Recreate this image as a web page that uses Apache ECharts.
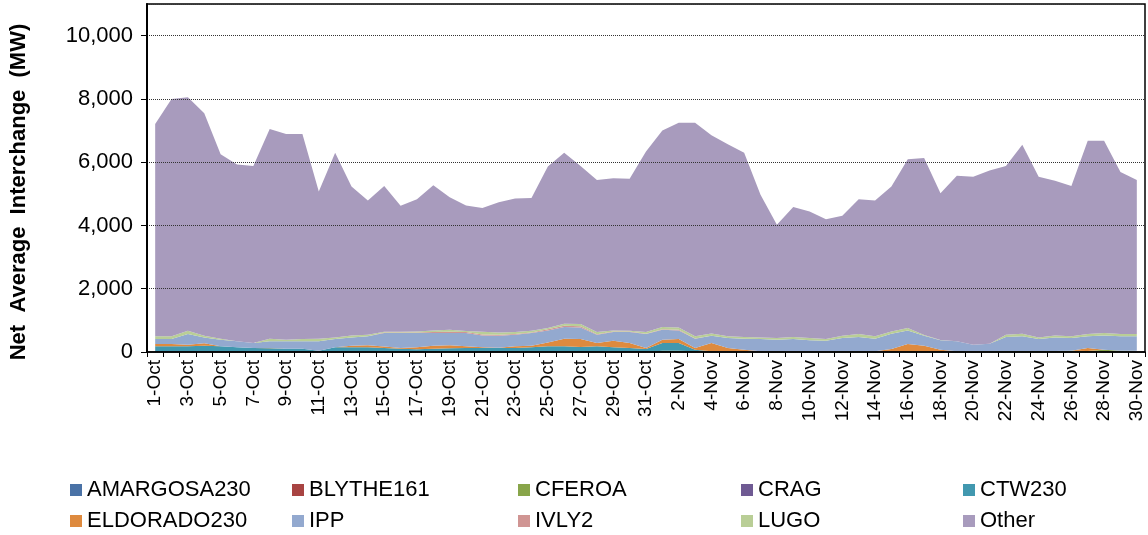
<!DOCTYPE html>
<html>
<head>
<meta charset="utf-8">
<script src="https://cdn.jsdelivr.net/npm/echarts@6/dist/echarts.min.js"></script>
<style>
html,body{margin:0;padding:0;background:#fff;}
#chart{width:1148px;height:535px;}
</style>
</head>
<body>
<div id="chart"></div>
<script>
var categories = ["1-Oct","2-Oct","3-Oct","4-Oct","5-Oct","6-Oct","7-Oct","8-Oct","9-Oct","10-Oct","11-Oct","12-Oct","13-Oct","14-Oct","15-Oct","16-Oct","17-Oct","18-Oct","19-Oct","20-Oct","21-Oct","22-Oct","23-Oct","24-Oct","25-Oct","26-Oct","27-Oct","28-Oct","29-Oct","30-Oct","31-Oct","1-Nov","2-Nov","3-Nov","4-Nov","5-Nov","6-Nov","7-Nov","8-Nov","9-Nov","10-Nov","11-Nov","12-Nov","13-Nov","14-Nov","15-Nov","16-Nov","17-Nov","18-Nov","19-Nov","20-Nov","21-Nov","22-Nov","23-Nov","24-Nov","25-Nov","26-Nov","27-Nov","28-Nov","29-Nov","30-Nov"];

var seriesNames = ["AMARGOSA230","BLYTHE161","CFEROA","CRAG","CTW230","ELDORADO230","IPP","IVLY2","LUGO","Other"];

var amargosa230 = [20,20,20,20,20,20,20,20,20,20,20,20,20,20,0,0,0,0,0,0,0,0,0,0,0,0,0,0,0,0,0,0,0,0,0,0,0,0,0,0,0,0,0,0,0,0,0,0,0,0,0,0,0,0,0,0,0,0,0,0,0];
var blythe161 = [0,0,0,0,0,0,0,0,0,0,0,0,0,0,0,0,0,0,0,0,0,0,0,0,0,0,0,0,0,0,0,0,0,0,0,0,0,0,0,0,0,0,0,0,0,0,0,0,0,0,0,0,0,0,0,0,0,0,0,0,0];
var cferoa = [0,0,0,0,0,0,0,0,0,0,0,0,0,0,0,0,0,0,0,0,0,0,0,0,0,0,0,0,0,0,0,40,40,20,0,0,0,20,20,20,20,20,20,20,20,0,0,0,0,20,20,20,30,30,30,30,40,30,74,40,40];
var crag = [0,0,0,0,0,0,0,0,0,0,0,0,0,0,0,0,0,0,0,0,0,0,0,0,0,0,0,0,0,0,0,0,0,0,0,0,0,0,0,0,0,0,0,0,0,0,0,0,0,0,0,0,0,0,0,0,0,0,0,0,0];
var ctw230 = [158,158,158,179,158,127,106,96,85,85,22,127,127,127,126,105,90,105,120,126,126,126,126,147,178,178,157,178,147,126,95,244,244,54,20,20,0,0,0,0,0,0,0,0,0,0,0,0,0,0,0,0,0,0,0,0,0,0,0,0,0];
var eldorado230 = [74,74,53,74,0,0,0,14,0,0,0,0,53,63,44,25,60,95,90,52,21,9,52,52,126,242,253,106,210,158,31,105,126,52,264,106,74,0,0,0,0,0,0,0,0,95,252,200,74,0,0,0,0,0,0,0,0,95,0,0,0];
var ipp = [158,158,336,189,211,189,158,206,231,231,294,263,262,284,428,468,448,398,388,420,378,380,368,399,378,367,367,262,273,346,441,315,272,294,231,315,346,390,369,390,348,337,421,453,400,483,430,315,294,316,211,243,443,464,380,432,401,369,451,454,454];
var ivly2 = [0,0,0,0,0,0,0,0,0,0,0,0,0,0,22,22,22,32,42,32,31,31,24,22,38,43,33,14,20,20,13,16,18,10,0,0,0,0,0,0,0,0,0,0,0,0,0,0,0,0,0,0,0,0,0,0,0,0,0,0,0];
var lugo = [84,84,105,53,31,0,0,84,53,74,84,52,63,52,20,20,30,53,64,32,84,74,60,52,36,63,72,70,33,22,50,67,77,64,73,53,53,52,52,63,73,53,74,94,74,73,74,20,10,0,0,0,73,84,52,63,53,73,73,73,73];
var other = [6716,7506,7378,7035,5830,5594,5596,6630,6501,6480,4650,5838,4705,4244,4610,3980,4180,4587,4186,3968,3910,4115,4220,4198,5104,5407,4998,4810,4807,4808,5710,6213,6473,6756,6262,6076,5827,4508,3579,4107,3999,3790,3795,4263,4296,4579,5334,5595,4642,5234,5309,5477,5334,5972,5078,4885,4756,6113,6082,5123,4873];

var yTicks = [0, 2000, 4000, 6000, 8000, 10000];
var yAxisTitle = "Net  Average  Interchange  (MW)";

var seriesData = [amargosa230, blythe161, cferoa, crag, ctw230, eldorado230, ipp, ivly2, lugo, other];
var colors = ["#4A72A6","#A84442","#88A54A","#6F5A93","#4198AF","#DE8A3E","#93A9CF","#D09593","#B9CE96","#A89BBD"];

var FONT = "Arial, 'Liberation Sans', sans-serif";

var series = seriesNames.map(function (n, k) {
  return {
    name: n,
    type: 'line',
    stack: 'total',
    data: seriesData[k],
    symbol: 'none',
    showSymbol: false,
    lineStyle: { width: 0, color: colors[k] },
    itemStyle: { color: colors[k] },
    areaStyle: { color: colors[k], opacity: 1 },
    emphasis: { disabled: true },
    z: 2
  };
});

var legendLefts = [70, 292, 518, 741, 963];
var legendTops = [479, 510];
var legends = seriesNames.map(function (n, k) {
  return {
    data: [n],
    left: legendLefts[k % 5],
    top: legendTops[Math.floor(k / 5)],
    icon: 'rect',
    itemWidth: 12,
    itemHeight: 12,
    padding: 0,
    selectedMode: false,
    textStyle: { fontFamily: FONT, fontSize: 22, color: '#000', padding: [0, 0, 0, 0] }
  };
});

var chart = echarts.init(document.getElementById('chart'), null, { renderer: 'canvas' });
chart.setOption({
  animation: false,
  backgroundColor: '#fff',
  color: colors,
  grid: { left: 147, top: 4, right: 3, bottom: 183, show: true, borderColor: '#000', borderWidth: 1.5, backgroundColor: 'transparent', z: 5 },
  legend: legends,
  graphic: [{
    type: 'text',
    x: 19,
    y: 192,
    rotation: Math.PI / 2,
    style: { text: yAxisTitle, fontFamily: FONT, fontSize: 22, fontWeight: 'bold', fill: '#000', align: 'center', verticalAlign: 'middle' }
  }],
  xAxis: {
    type: 'category',
    data: categories,
    boundaryGap: true,
    axisLine: { show: true, lineStyle: { color: '#000', width: 1.5 } },
    axisTick: { show: true, interval: 0, length: 5, lineStyle: { color: '#000', width: 1 } },
    axisLabel: { interval: 1, rotate: 90, margin: 8, fontFamily: FONT, fontSize: 19, color: '#000' },
    splitLine: { show: false },
    z: 10
  },
  yAxis: {
    type: 'value',
    min: 0,
    max: 11000,
    interval: 2000,
    axisLine: { show: true, lineStyle: { color: '#000', width: 2 } },
    axisTick: { show: true, length: 6, inside: false, lineStyle: { color: '#000', width: 1 } },
    axisLabel: {
      margin: 14,
      fontFamily: FONT,
      fontSize: 22,
      color: '#000',
      showMaxLabel: false,
      formatter: function (v) { return yTicks.indexOf(v) >= 0 ? v.toLocaleString('en-US') : ''; }
    },
    splitLine: { show: true, lineStyle: { color: '#333', width: 1, type: [1, 1] } },
    z: 10
  },
  series: series
});
</script>
</body>
</html>
